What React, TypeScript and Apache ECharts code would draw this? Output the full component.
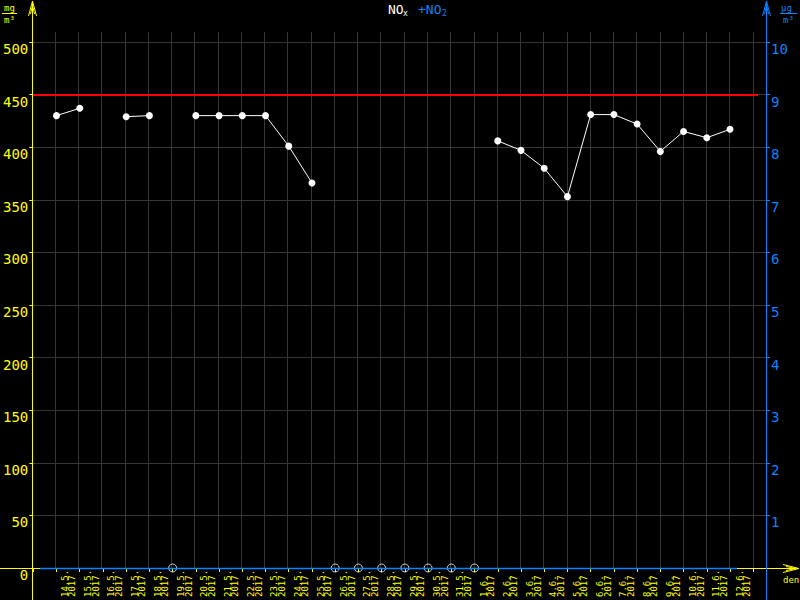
import React, { useEffect, useRef } from "react";
import * as echarts from "echarts";

// ---- data ----
const dayLabels = [
  "14.5.", "15.5.", "16.5.", "17.5.", "18.5.", "19.5.", "20.5.", "21.5.", "22.5.", "23.5.",
  "24.5.", "25.5.", "26.5.", "27.5.", "28.5.", "29.5.", "30.5.", "31.5.", "1.6.", "2.6.",
  "3.6.", "4.6.", "5.6.", "6.6.", "7.6.", "8.6.", "9.6.", "10.6.", "11.6.", "12.6.",
];
const yearLabel = "2017";
const noxValues: (number | null)[] = [
  430, 437, null, 429, 430, null, 430, 430, 430, 430,
  401, 366, null, null, null, null, null, null, null, 406,
  397, 380, 353, 431, 431, 422, 396, 415, 409, 417, null,
];
const missingIdx = [5, 12, 13, 14, 15, 16, 17, 18];
const limitValue = 450;
const leftAxisMax = 500;
const leftAxisStep = 50;
const rightAxisMax = 10;
const rightAxisStep = 1;

const YEL = "#ffff00";
const BLUE = "#0a84ff";
const GRIDC = "#363636";
const MONO = "DejaVu Sans Mono";

export default function App() {
  const ref = useRef<HTMLDivElement>(null);
  useEffect(() => {
    if (!ref.current) return;
    const chart = echarts.init(ref.current, null, { renderer: "svg" });
    const lineData = noxValues.map((v, i) => [i, v === null ? "-" : v]);
    const missData = missingIdx.map((i) => [i, 0]);
    const t = (x: number, y: number, text: string, fill: string, size: number, align = "left") => ({
      type: "text", z: 103, x, y,
      style: { text, fill, font: `${size}px '${MONO}'`, align, verticalAlign: "top" },
    });
    chart.setOption({
      animation: false,
      backgroundColor: "#000",
      grid: [
        { left: 32, right: 34, top: 42, bottom: 32, containLabel: false },
        { left: 57, right: 45, top: 42, bottom: 32, containLabel: false },
        { left: 55, right: 47, top: 32, bottom: 32, containLabel: false },
      ],
      xAxis: [
        {
          type: "value",
          gridIndex: 0,
          min: -1,
          max: 30.55,
          interval: 1,
          axisLine: { show: false, onZero: false },
          axisTick: { show: true, length: 4, lineStyle: { color: YEL } },
          splitLine: { show: false },
          axisLabel: { show: false },
        },
        {
          type: "category",
          gridIndex: 1,
          position: "bottom",
          boundaryGap: true,
          data: dayLabels.map((d) => d + "\n" + yearLabel),
          axisLine: { show: false },
          axisTick: { show: false },
          splitLine: { show: false },
          axisLabel: {
            rotate: 90,
            interval: 0,
            align: "left",
            verticalAlign: "middle",
            margin: 31,
            color: YEL,
            fontFamily: MONO,
            fontSize: 9,
            lineHeight: 7.5,
          },
        },
        {
          type: "value",
          gridIndex: 2,
          min: 0,
          max: 30,
          interval: 1,
          axisLine: { show: false, onZero: false },
          axisTick: { show: false },
          axisLabel: { show: false },
          splitLine: { show: true, lineStyle: { color: GRIDC, width: 1 } },
        },
      ],
      yAxis: [
        {
          type: "value",
          gridIndex: 0,
          min: 0,
          max: leftAxisMax,
          interval: leftAxisStep,
          position: "left",
          axisLine: { show: false, onZero: false },
          axisTick: { show: true, length: 4, lineStyle: { color: YEL } },
          splitLine: { show: true, lineStyle: { color: GRIDC, width: 1 } },
          axisLabel: { color: YEL, fontFamily: MONO, fontSize: 14, margin: 5, verticalAlign: "top" },
        },
        {
          type: "value",
          gridIndex: 0,
          min: 0,
          max: rightAxisMax,
          interval: rightAxisStep,
          position: "right",
          axisLine: { show: false, onZero: false },
          axisTick: { show: true, length: 4, lineStyle: { color: BLUE } },
          splitLine: { show: false },
          axisLabel: {
            color: BLUE, fontFamily: MONO, fontSize: 14, margin: 5, verticalAlign: "top",
            formatter: (v: number) => (v === 0 ? "" : String(v)),
          },
        },
        { type: "value", gridIndex: 1, min: 0, max: 1, show: false },
        { type: "value", gridIndex: 2, min: 0, max: 1, show: false },
      ],
      series: [
        {
          name: "NOx",
          type: "line",
          xAxisIndex: 0,
          yAxisIndex: 0,
          data: lineData,
          connectNulls: false,
          symbol: "circle",
          symbolSize: 7,
          showSymbol: true,
          itemStyle: { color: "#fff" },
          lineStyle: { color: "#fff", width: 1 },
          z: 5,
          markLine: {
            silent: true,
            symbol: "none",
            label: { show: false },
            lineStyle: { color: "#ff0000", width: 2, type: "solid" },
            data: [[{ coord: [-1, limitValue] }, { coord: [30.2, limitValue] }]],
          },
        },
        {
          name: "missing",
          type: "scatter",
          xAxisIndex: 0,
          yAxisIndex: 0,
          data: missData,
          symbol: "circle",
          symbolSize: 8,
          itemStyle: { color: "rgba(0,0,0,0)", borderColor: "#fff", borderWidth: 1 },
          z: 6,
        },
      ],
      graphic: [
        { type: "line", z: 100, shape: { x1: 0, y1: 568.5, x2: 798, y2: 568.5 }, style: { stroke: YEL, lineWidth: 1 } },
        { type: "line", z: 101, shape: { x1: 40, y1: 568.5, x2: 737, y2: 568.5 }, style: { stroke: BLUE, lineWidth: 1.5 } },
        { type: "line", z: 102, shape: { x1: 32.5, y1: 1, x2: 32.5, y2: 600 }, style: { stroke: YEL, lineWidth: 1 } },
        { type: "line", z: 102, shape: { x1: 766.5, y1: 1, x2: 766.5, y2: 600 }, style: { stroke: BLUE, lineWidth: 1 } },
        { type: "polyline", z: 103, shape: { points: [[28.5, 16], [32.5, 1], [36.5, 16]] }, style: { stroke: YEL, lineWidth: 1, fill: "none" } },
        { type: "polyline", z: 103, shape: { points: [[30.5, 14], [32.5, 5], [34.5, 14]] }, style: { stroke: YEL, lineWidth: 1, fill: "none" } },
        { type: "polyline", z: 103, shape: { points: [[762.5, 16], [766.5, 1], [770.5, 16]] }, style: { stroke: BLUE, lineWidth: 1, fill: "none" } },
        { type: "polyline", z: 103, shape: { points: [[764.5, 14], [766.5, 5], [768.5, 14]] }, style: { stroke: BLUE, lineWidth: 1, fill: "none" } },
        { type: "polyline", z: 103, shape: { points: [[783, 564.5], [799, 568.5], [783, 572.5]] }, style: { stroke: YEL, lineWidth: 1, fill: "none" } },
        { type: "polyline", z: 103, shape: { points: [[786, 566.5], [796, 568.5], [786, 570.5]] }, style: { stroke: YEL, lineWidth: 1, fill: "none" } },
        t(783, 575, "den", YEL, 9),
        // title
        t(388, 3, "NO", "#fff", 13),
        t(403, 9, "x", "#fff", 8),
        t(418, 3, "+NO", BLUE, 13),
        t(442, 9, "2", BLUE, 8),
        // units left
        t(4, 3, "mg", YEL, 9),
        { type: "line", z: 103, shape: { x1: 2, y1: 13.5, x2: 17, y2: 13.5 }, style: { stroke: YEL, lineWidth: 1 } },
        t(4, 15, "m³", YEL, 9),
        // units right
        t(781, 3, "µg", BLUE, 9),
        { type: "line", z: 103, shape: { x1: 780, y1: 13.5, x2: 797, y2: 13.5 }, style: { stroke: BLUE, lineWidth: 1 } },
        t(783, 15, "m³", BLUE, 9),
      ],
    });
    return () => chart.dispose();
  }, []);
  return (
    <div
      ref={ref}
      style={{ position: "fixed", left: 0, top: 0, width: 800, height: 600, background: "#000" }}
    />
  );
}
